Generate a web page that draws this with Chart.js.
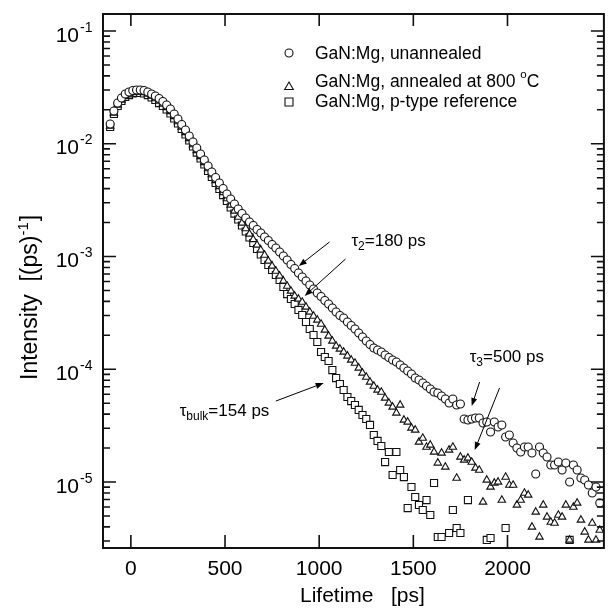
<!DOCTYPE html>
<html lang="en">
<head>
<meta charset="UTF-8">
<title>GaN:Mg lifetime spectra</title>
<script src="https://cdn.jsdelivr.net/npm/chart.js@4.4.1/dist/chart.umd.min.js"></script>
<style>
  body { margin: 0; background: #fff; }
</style>
</head>
<body>
<canvas id="myChart" width="610" height="610"></canvas>
<script>
// channel times [ps]
const lifetime = [
  -110, -90, -70, -50, -30, -10, 10, 30, 50, 70,
  90, 110, 130, 150, 170, 190, 210, 230, 250, 270,
  290, 310, 330, 350, 370, 390, 410, 430, 450, 470,
  490, 510, 530, 550, 570, 590, 610, 630, 650, 670,
  690, 710, 730, 750, 770, 790, 810, 830, 850, 870,
  890, 910, 930, 950, 970, 990, 1010, 1030, 1050, 1070,
  1090, 1110, 1130, 1150, 1170, 1190, 1210, 1230, 1250, 1270,
  1290, 1310, 1330, 1350, 1370, 1390, 1410, 1430, 1450, 1470,
  1490, 1510, 1530, 1550, 1570, 1590, 1610, 1630, 1650, 1670,
  1690, 1710, 1730, 1750, 1770, 1790, 1810, 1830, 1850, 1870,
  1890, 1910, 1930, 1950, 1970, 1990, 2010, 2030, 2050, 2070,
  2090, 2110, 2130, 2150, 2170, 2190, 2210, 2230, 2250, 2270,
  2290, 2310, 2330, 2350, 2370, 2390, 2410, 2430, 2450, 2470,
  2490
];

// log10 of intensity [(ps)^-1]
const unannealedLog = [
  -1.825, -1.710, -1.639, -1.594, -1.559, -1.541, -1.528, -1.523, -1.523, -1.528,
  -1.541, -1.559, -1.576, -1.599, -1.625, -1.656, -1.692, -1.736, -1.780, -1.829,
  -1.878, -1.931, -1.984, -2.038, -2.091, -2.144, -2.197, -2.251, -2.299, -2.348,
  -2.397, -2.446, -2.490, -2.534, -2.579, -2.619, -2.658, -2.694, -2.725, -2.760,
  -2.792, -2.827, -2.858, -2.894, -2.925, -2.960, -2.996, -3.031, -3.071, -3.106,
  -3.146, -3.182, -3.217, -3.253, -3.288, -3.324, -3.355, -3.390, -3.421, -3.457,
  -3.492, -3.523, -3.545, -3.581, -3.612, -3.643, -3.678, -3.714, -3.749, -3.780,
  -3.811, -3.829, -3.847, -3.874, -3.896, -3.918, -3.936, -3.962, -3.989, -4.016,
  -4.042, -4.078, -4.095, -4.122, -4.149, -4.175, -4.202, -4.211, -4.237, -4.264,
  -4.299, -4.264, -4.317, -4.308, -4.441, -4.450, -4.441, -4.432, -4.432, -4.477,
  -4.468, -4.556, -4.468, -4.512, -4.494, -4.601, -4.583, -4.654, -4.698, -4.734,
  -4.690, -4.690, -4.743, -4.929, -4.690, -4.743, -4.778, -4.849, -4.849, -4.823,
  -4.894, -4.831, -5.000, -4.849, -4.894, -4.965, -4.982, -5.027, -5.098, -5.044,
  -5.186
];

const annealedLog = [
  -1.843, -1.727, -1.656, -1.612, -1.576, -1.559, -1.545, -1.541, -1.541, -1.545,
  -1.559, -1.576, -1.599, -1.621, -1.647, -1.678, -1.714, -1.758, -1.803, -1.851,
  -1.900, -1.953, -2.007, -2.060, -2.113, -2.166, -2.220, -2.273, -2.326, -2.379,
  -2.432, -2.486, -2.543, -2.596, -2.650, -2.703, -2.752, -2.800, -2.849, -2.898,
  -2.942, -2.987, -3.040, -3.084, -3.129, -3.173, -3.217, -3.262, -3.306, -3.350,
  -3.377, -3.404, -3.448, -3.492, -3.528, -3.563, -3.599, -3.652, -3.705, -3.749,
  -3.794, -3.820, -3.847, -3.882, -3.918, -3.945, -3.989, -4.033, -4.069, -4.113,
  -4.149, -4.184, -4.202, -4.255, -4.299, -4.335, -4.388, -4.317, -4.450, -4.468,
  -4.521, -4.539, -4.645, -4.610, -4.690, -4.672, -4.734, -4.831, -4.743, -4.867,
  -4.716, -4.690, -4.965, -4.778, -4.805, -4.787, -4.823, -4.876, -4.894, -5.177,
  -4.982, -5.044, -5.009, -5.000, -5.160, -4.956, -5.027, -5.027, -5.204, -5.160,
  -5.098, -5.115, -5.399, -5.266, -5.488, -5.204, -5.310, -5.355, -5.364, -5.293,
  -5.310, -5.204, -5.514, -5.222, -5.186, -5.337, -5.443, -5.514, -5.364, -5.514,
  -5.426
];

// null = channel below the bottom of the plot
const pTypeLog = [
  -1.851, -1.736, -1.665, -1.621, -1.585, -1.568, -1.554, -1.550, -1.550, -1.554,
  -1.568, -1.590, -1.612, -1.639, -1.665, -1.696, -1.732, -1.776, -1.820, -1.869,
  -1.918, -1.971, -2.024, -2.078, -2.131, -2.184, -2.242, -2.295, -2.348, -2.401,
  -2.455, -2.508, -2.565, -2.619, -2.672, -2.725, -2.778, -2.831, -2.880, -2.933,
  -2.982, -3.031, -3.075, -3.120, -3.164, -3.208, -3.270, -3.333, -3.377, -3.421,
  -3.474, -3.519, -3.581, -3.643, -3.696, -3.758, -3.847, -3.891, -3.927, -4.007,
  -4.078, -4.131, -4.184, -4.246, -4.282, -4.317, -4.361, -4.406, -4.441, -4.494,
  -4.583, -4.636, -4.681, -4.823, -4.734, -4.938, -4.734, -4.894, -4.956, -5.231,
  -5.044, -5.133, -5.204, -5.248, -5.160, -5.293, -5.009, -5.488, -5.488, null,
  -5.452, -5.248, -5.408, -5.452, null, -5.160, null, null, null, null,
  -5.514, -5.497, null, null, null, -5.408, null, null, null, null,
  null, null, null, null, null, null, null, null, null, null,
  null, null, -5.514, null, null, null, null, null, null, null,
  null
];

const xTicks = [0, 500, 1000, 1500, 2000];
const yTickExps = [-1, -2, -3, -4, -5];

const FONT = '"Liberation Sans", Arial, Helvetica, sans-serif';

// annotations in data units: text anchor (left, baseline) and arrows from -> tip
const notes = [
  { sub: '2', text: '=180 ps', at: [1171, -2.907],
    arrows: [[1055, -2.871, 892, -3.084], [1140, -3.022, 923, -3.350]] },
  { sub: '3', text: '=500 ps', at: [1799, -3.936],
    arrows: [[1852, -4.113, 1810, -4.326], [1958, -4.166, 1826, -4.716]] },
  { sub: 'bulk', text: '=154 ps', at: [259, -4.415],
    arrows: [[770, -4.282, 1024, -4.122]] }
];

function points(logs) {
  const pts = [];
  logs.forEach((v, i) => {
    if (v !== null) pts.push({ x: lifetime[i], y: Math.pow(10, v) });
  });
  return pts;
}

// draw a row of text pieces, each {t, size, dy}
function runs(ctx, x, y, parts) {
  let cx = x;
  parts.forEach(p => {
    ctx.font = p.size + 'px ' + FONT;
    ctx.fillText(p.t, cx, y + (p.dy || 0));
    cx += ctx.measureText(p.t).width + (p.gap || 0);
  });
  return cx - x;
}

function marker(ctx, style, cx, cy, r) {
  ctx.beginPath();
  if (style === 'circle') {
    ctx.arc(cx, cy, r, 0, Math.PI * 2);
  } else if (style === 'triangle') {
    ctx.moveTo(cx, cy - r);
    ctx.lineTo(cx + r * 0.866, cy + r / 2);
    ctx.lineTo(cx - r * 0.866, cy + r / 2);
    ctx.closePath();
  } else {
    ctx.rect(cx - r, cy - r, 2 * r, 2 * r);
  }
  ctx.fillStyle = '#fff';
  ctx.fill();
  ctx.stroke();
}

function arrow(ctx, x1, y1, x2, y2) {
  const ang = Math.atan2(y2 - y1, x2 - x1);
  const L = 8, W = 3;
  ctx.beginPath();
  ctx.moveTo(x1, y1);
  ctx.lineTo(x2 - Math.cos(ang) * L * 0.8, y2 - Math.sin(ang) * L * 0.8);
  ctx.stroke();
  ctx.beginPath();
  ctx.moveTo(x2, y2);
  ctx.lineTo(x2 - Math.cos(ang) * L - Math.sin(ang) * W, y2 - Math.sin(ang) * L + Math.cos(ang) * W);
  ctx.lineTo(x2 - Math.cos(ang) * L + Math.sin(ang) * W, y2 - Math.sin(ang) * L - Math.cos(ang) * W);
  ctx.closePath();
  ctx.fill();
}

const decorations = {
  id: 'decorations',
  afterDraw(chart) {
    const { ctx, chartArea: a, scales: { x, y } } = chart;
    ctx.save();
    ctx.strokeStyle = '#111';
    ctx.fillStyle = '#000';

    // frame
    ctx.lineWidth = 2;
    ctx.strokeRect(a.left, a.top, a.right - a.left, a.bottom - a.top);

    // inward ticks on all four sides
    ctx.lineWidth = 1.6;
    ctx.beginPath();
    for (let e = -6; e <= -1; e++) {
      for (let k = 1; k <= 9; k++) {
        const v = k * Math.pow(10, e);
        if (v < y.min || v > y.max) continue;
        const py = y.getPixelForValue(v);
        const len = k === 1 ? 13 : 7;
        ctx.moveTo(a.left, py); ctx.lineTo(a.left + len, py);
        ctx.moveTo(a.right, py); ctx.lineTo(a.right - len, py);
      }
    }
    xTicks.forEach(t => {
      const px = x.getPixelForValue(t);
      ctx.moveTo(px, a.bottom); ctx.lineTo(px, a.bottom - 13);
      ctx.moveTo(px, a.top); ctx.lineTo(px, a.top + 12);
    });
    ctx.stroke();

    // y tick labels 10^n
    ctx.fillStyle = '#000';
    yTickExps.forEach(e => {
      const py = y.getPixelForValue(Math.pow(10, e));
      ctx.textBaseline = 'alphabetic';
      ctx.font = '21px ' + FONT;
      ctx.textAlign = 'right';
      ctx.fillText('10', a.left - 24, py + 10.5);
      ctx.font = '14px ' + FONT;
      ctx.textAlign = 'left';
      ctx.fillText(String(e), a.left - 23, py + 0.5);
    });

    // axis titles
    ctx.textAlign = 'left';
    ctx.font = '21px ' + FONT;
    ctx.fillText('Lifetime   [ps]', 300, 602);

    ctx.save();
    ctx.translate(37, 380);
    ctx.rotate(-Math.PI / 2);
    runs(ctx, 0, 0, [
      { t: 'Intensity  [(ps)', size: 23 },
      { t: '-1', size: 15, dy: -9, gap: 1 },
      { t: ']', size: 23 }
    ]);
    ctx.restore();

    // legend
    const styles = ['circle', 'triangle', 'rect'];
    const symY = [53, 87, 102];
    const txtY = [58.5, 86.5, 107];
    const labels = [
      [{ t: 'GaN:Mg, unannealed', size: 17.5 }],
      [{ t: 'GaN:Mg, annealed at 800 ', size: 17.5 },
       { t: 'o', size: 11.5, dy: -9 }, { t: 'C', size: 17.5 }],
      [{ t: 'GaN:Mg, p-type reference', size: 17.5 }]
    ];
    ctx.lineWidth = 1.1;
    styles.forEach((s, i) => {
      const r = s === 'circle' ? 4 : (s === 'triangle' ? 5 : 4);
      marker(ctx, s, a.left + 186, symY[i], r);
      ctx.fillStyle = '#000';
      runs(ctx, a.left + 212, txtY[i], labels[i]);
    });

    // tau annotations
    ctx.lineWidth = 1;
    ctx.strokeStyle = '#000';
    notes.forEach(n => {
      const tx = x.getPixelForValue(n.at[0]);
      const ty = y.getPixelForValue(Math.pow(10, n.at[1]));
      runs(ctx, tx, ty, [
        { t: '\u03c4', size: 17 },
        { t: n.sub, size: 12, dy: 4 },
        { t: n.text, size: 17 }
      ]);
      n.arrows.forEach(ar => {
        arrow(ctx,
          x.getPixelForValue(ar[0]), y.getPixelForValue(Math.pow(10, ar[1])),
          x.getPixelForValue(ar[2]), y.getPixelForValue(Math.pow(10, ar[3])));
      });
    });

    ctx.restore();
  }
};

const common = {
  showLine: false,
  pointBorderColor: '#111',
  pointBackgroundColor: '#fff',
  pointBorderWidth: 1.1,
  pointHoverRadius: 0
};

const ctx = document.getElementById('myChart').getContext('2d');
const myChart = new Chart(ctx, {
  type: 'scatter',
  data: {
    datasets: [
      Object.assign({ label: 'GaN:Mg, unannealed', data: points(unannealedLog),
        pointStyle: 'circle', pointRadius: 4 }, common),
      Object.assign({ label: 'GaN:Mg, annealed at 800 °C', data: points(annealedLog),
        pointStyle: 'triangle', pointRadius: 4.3 }, common),
      Object.assign({ label: 'GaN:Mg, p-type reference', data: points(pTypeLog),
        pointStyle: 'rect', pointRadius: 5 }, common)
    ]
  },
  options: {
    responsive: false,
    animation: false,
    layout: { padding: { top: 14, right: 3, left: 0, bottom: 0 } },
    scales: {
      x: {
        type: 'linear',
        min: -148,
        max: 2512,
        grid: { display: false },
        border: { display: false },
        afterBuildTicks: s => { s.ticks = xTicks.map(v => ({ value: v })); },
        afterFit: s => { s.height = 62; },
        ticks: {
          color: '#000',
          padding: 1,
          maxRotation: 0,
          font: { size: 21, family: FONT },
          callback: v => String(v)
        }
      },
      y: {
        type: 'logarithmic',
        min: 2.598e-6,
        max: 0.14151,
        grid: { display: false },
        border: { display: false },
        ticks: { display: false },
        afterFit: s => { s.width = 103; }
      }
    },
    plugins: {
      legend: { display: false },
      tooltip: { enabled: false }
    }
  },
  plugins: [decorations]
});
</script>
</body>
</html>
